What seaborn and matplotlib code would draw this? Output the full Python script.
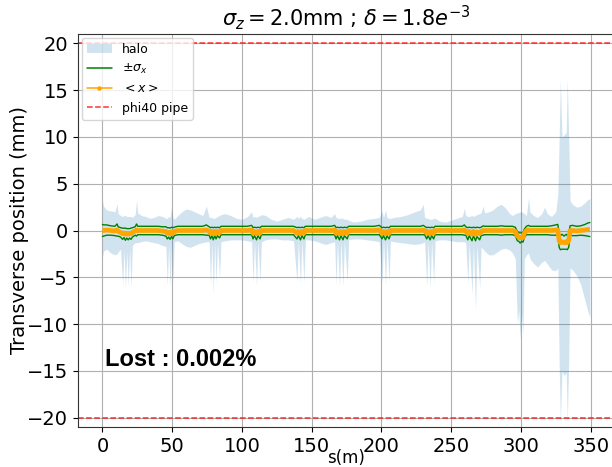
import matplotlib
matplotlib.use("Agg")
import matplotlib.pyplot as plt
from matplotlib.lines import Line2D
import numpy as np
import pandas as pd
import seaborn as sns

# Longitudinal positions along the lattice (m)
s_pos = [
    0, 0.8, 3, 6, 9, 10.5, 11.3, 13, 14.5, 15.5, 16.5, 17.5, 18.5, 19.5, 20.5, 21.5, 23.5, 24.5, 25.3,
    28, 31, 34, 37, 40, 43, 45.5, 46.5, 47.5, 48.5, 49.5, 50.5, 51.5, 54,
    57, 60, 63, 66, 69, 72, 74.5, 76.5, 77.5, 78.5, 79.5, 80.5, 81.5, 82.5, 84, 85, 88,
    92, 96, 100, 104, 107, 108, 109, 110.5, 111.5, 113, 114, 117,
    121, 125, 129, 133, 137, 139.5, 140.5, 142, 143, 144.5, 145.5, 148,
    152, 156, 160, 164, 166.5, 167.5, 168.5, 170, 171, 172.5, 173.5, 175.5, 176.5,
    180, 185, 190, 195, 198.5, 200.5, 201.5, 203, 204, 205.5, 206.5, 209,
    214, 219, 224, 228, 230, 231, 232.5, 233.5, 235, 236, 237.5, 238.5,
    242, 246, 250, 254, 258, 259.5, 260.5, 262, 263, 265, 266, 267.5, 268.5, 270.5, 271.5, 273, 274,
    277, 280, 283, 286, 289, 292, 294, 296,
    297.5, 298.5, 299.5, 300.5, 301.5, 302.5, 304, 305.5, 306.5,
    309, 312, 315, 317, 319, 322, 325, 326.5,
    327.5, 328.3, 329.5, 331, 332.5, 333.3, 334.3,
    335.3, 337, 340, 343, 346, 348, 349.5,
]

# Upper edge of the particle halo (mm)
halo_hi = [
    3.3, 2.6, 2.2, 2.1, 2.0, 2.9, 1.8, 1.6, 1.5, 1.6, 1.6, 1.5, 1.5, 1.5, 1.5, 1.4, 1.7, 3.3, 1.9,
    1.6, 1.5, 1.3, 1.4, 1.6, 1.5, 1.3, 1.3, 1.5, 1.4, 2.5, 1.4, 1.2, 1.6,
    2.0, 2.3, 2.2, 2.0, 1.8, 1.6, 2.6, 1.4, 1.4, 1.4, 1.3, 1.3, 1.4, 1.5, 1.6, 1.7, 1.8,
    1.6, 1.3, 1.2, 1.5, 2.0, 1.4, 1.5, 1.4, 1.5, 1.6, 1.7, 1.6,
    1.2, 1.0, 1.2, 1.4, 1.2, 1.5, 1.3, 1.5, 1.3, 1.2, 1.3, 1.5,
    1.2, 1.4, 1.6, 1.4, 1.8, 1.4, 1.3, 1.3, 1.3, 1.3, 1.2, 1.2, 1.1,
    0.9, 1.0, 1.2, 1.3, 1.4, 2.1, 1.4, 2.2, 1.4, 1.3, 1.3, 1.4,
    1.5, 1.7, 2.0, 2.2, 2.8, 1.4, 1.3, 1.3, 1.2, 1.2, 1.3, 1.3,
    1.0, 0.9, 1.1, 1.3, 1.5, 2.4, 1.6, 1.5, 1.5, 1.6, 1.5, 1.6, 1.7, 1.8, 1.9, 2.6, 1.9,
    2.0, 2.2, 2.6, 2.8, 2.4, 1.8, 1.6, 1.8,
    1.9, 1.9, 2.0, 2.0, 1.9, 1.8, 1.6, 3.5, 2.0,
    1.6, 1.4, 1.8, 2.5, 1.8, 1.5, 2.0, 3.8,
    10.0, 16.2, 10.0, 10.2, 10.5, 16.2, 10.0,
    3.2, 2.8, 2.5, 2.6, 3.0, 3.3, 3.4,
]

# Lower edge of the particle halo (mm)
halo_lo = [
    -2.9, -2.2, -2.0, -2.4, -2.6, -2.5, -2.3, -2.0, -5.8, -2.0, -6.2, -2.2, -5.9, -2.0, -6.1, -1.6, -1.3, -1.3, -1.3,
    -1.2, -1.1, -1.2, -1.3, -1.4, -1.6, -1.7, -5.9, -1.5, -6.1, -1.4, -5.6, -1.2, -1.1,
    -1.4, -1.7, -1.8, -1.6, -1.4, -1.3, -1.2, -1.2, -5.8, -1.3, -6.8, -1.3, -5.6, -1.3, -5.0, -1.2, -1.1,
    -1.0, -1.0, -1.0, -1.1, -1.2, -5.6, -1.2, -5.9, -1.2, -5.4, -1.2, -1.0,
    -0.9, -0.9, -1.0, -1.0, -1.1, -5.5, -1.1, -5.7, -1.1, -5.5, -1.0, -1.0,
    -1.1, -1.3, -1.5, -1.3, -1.2, -5.8, -1.2, -6.0, -1.2, -5.9, -1.1, -5.4, -1.0,
    -0.9, -0.9, -1.0, -1.1, -1.2, -5.6, -1.1, -5.9, -1.1, -5.5, -1.1, -1.2,
    -1.3, -1.4, -1.5, -1.4, -1.3, -1.2, -5.9, -1.2, -6.1, -1.2, -5.6, -1.1,
    -1.0, -1.0, -1.1, -1.2, -1.2, -1.2, -1.3, -5.6, -1.4, -6.8, -1.5, -8.5, -1.6, -6.2, -1.8, -2.0, -2.2,
    -2.6, -2.6, -2.3, -2.0, -1.9, -2.1, -2.4, -3.0,
    -10.0, -8.5, -11.5, -9.0, -11.0, -3.0, -2.6, -2.4, -3.0,
    -3.5, -3.9, -3.4, -3.2, -3.6, -4.2, -4.3, -4.0,
    -14.5, -20.5, -15.0, -15.5, -15.2, -20.5, -14.0,
    -4.0, -4.2, -4.8, -5.8, -7.5, -8.6, -9.3,
]

# Beam centroid <x> (mm)
x_mean = [
    0.0, 0.0, 0.05, 0.0, -0.05, 0.05, -0.1, -0.2, -0.35, -0.25, -0.4, -0.3, -0.4, -0.3, -0.35, -0.2, -0.05, 0.05, 0.0,
    0.0, 0.0, 0.0, 0.0, 0.0, -0.05, -0.1, -0.3, -0.2, -0.35, -0.15, -0.3, -0.1, 0.0,
    0.0, 0.0, 0.0, 0.0, 0.0, 0.0, 0.05, -0.05, -0.3, -0.1, -0.35, -0.1, -0.3, -0.1, -0.25, 0.0, 0.0,
    0.0, 0.0, 0.0, 0.0, 0.05, -0.3, -0.1, -0.35, -0.1, -0.3, 0.0, 0.0,
    0.0, 0.0, 0.0, 0.0, 0.0, -0.3, -0.1, -0.35, -0.1, -0.3, 0.0, 0.0,
    0.0, 0.0, 0.0, 0.0, 0.05, -0.3, -0.1, -0.35, -0.1, -0.35, -0.1, -0.3, 0.0,
    0.0, 0.0, 0.0, 0.0, 0.05, -0.3, -0.1, -0.35, -0.1, -0.3, 0.0, 0.0,
    0.0, 0.0, 0.0, 0.0, 0.05, 0.0, -0.3, -0.1, -0.35, -0.1, -0.3, 0.0,
    0.0, 0.0, 0.0, 0.0, 0.0, 0.05, -0.05, -0.35, -0.1, -0.4, -0.1, -0.4, -0.15, -0.35, -0.1, 0.0, 0.0,
    0.0, 0.0, 0.0, 0.0, 0.0, 0.0, 0.0, -0.1,
    -0.6, -0.7, -0.8, -0.7, -0.75, -0.3, 0.0, 0.05, 0.0,
    0.0, 0.0, 0.0, 0.0, 0.0, 0.0, 0.05, 0.05,
    -1.1, -1.3, -1.2, -1.3, -1.2, -1.3, -1.1,
    0.0, 0.0, -0.05, 0.0, 0.05, 0.1, 0.1,
]

# RMS beam size sigma_x (mm)
sigma_x = [
    0.65, 0.6, 0.55, 0.5, 0.5, 0.65, 0.5, 0.5, 0.6, 0.5, 0.65, 0.5, 0.6, 0.5, 0.6, 0.5, 0.45, 0.65, 0.45,
    0.45, 0.45, 0.45, 0.45, 0.45, 0.45, 0.5, 0.6, 0.5, 0.6, 0.5, 0.6, 0.45, 0.45,
    0.45, 0.45, 0.45, 0.45, 0.45, 0.45, 0.55, 0.45, 0.6, 0.45, 0.65, 0.45, 0.6, 0.45, 0.55, 0.45, 0.45,
    0.45, 0.45, 0.45, 0.45, 0.5, 0.6, 0.45, 0.65, 0.45, 0.6, 0.45, 0.45,
    0.45, 0.45, 0.45, 0.45, 0.45, 0.6, 0.45, 0.65, 0.45, 0.6, 0.45, 0.45,
    0.45, 0.45, 0.45, 0.45, 0.5, 0.6, 0.45, 0.65, 0.45, 0.65, 0.45, 0.6, 0.45,
    0.45, 0.45, 0.45, 0.45, 0.5, 0.6, 0.45, 0.65, 0.45, 0.6, 0.45, 0.45,
    0.45, 0.45, 0.45, 0.45, 0.5, 0.45, 0.6, 0.45, 0.65, 0.45, 0.6, 0.45,
    0.45, 0.45, 0.45, 0.45, 0.45, 0.55, 0.45, 0.65, 0.45, 0.7, 0.45, 0.7, 0.5, 0.65, 0.45, 0.5, 0.45,
    0.45, 0.45, 0.45, 0.5, 0.45, 0.45, 0.45, 0.45,
    0.5, 0.45, 0.55, 0.45, 0.5, 0.45, 0.45, 0.5, 0.45,
    0.45, 0.45, 0.45, 0.45, 0.45, 0.5, 0.55, 0.6,
    0.7, 0.75, 0.8, 0.7, 0.8, 0.75, 0.7,
    0.5, 0.55, 0.5, 0.5, 0.6, 0.7, 0.75,
]

pipe_radius = 20.0
lost_fraction = "0.002%"
xticks = [0, 50, 100, 150, 200, 250, 300, 350]
yticks = [-20, -15, -10, -5, 0, 5, 10, 15, 20]

df = pd.DataFrame({
    "s": s_pos,
    "hi": halo_hi,
    "lo": halo_lo,
    "mean": x_mean,
    "sigma": sigma_x,
})
df["up"] = df["mean"] + df["sigma"]
df["down"] = df["mean"] - df["sigma"]

sns.set_theme(style="ticks", rc={
    "axes.edgecolor": "0.2",
    "axes.linewidth": 0.8,
    "xtick.major.size": 3.5,
    "ytick.major.size": 3.5,
    "xtick.major.width": 0.8,
    "ytick.major.width": 0.8,
    "xtick.color": "black",
    "ytick.color": "black",
    "text.color": "black",
    "axes.labelcolor": "black",
})
plt.rcParams["font.family"] = ["DejaVu Sans"]

DPI = 100
W, H = 612, 467
fig = plt.figure(figsize=(W / DPI, H / DPI), dpi=DPI)
ax = fig.add_axes([78 / W, 40 / H, 537 / W, 393 / H])

halo = ax.fill_between(df["s"], df["lo"], df["hi"], color="#1f77b4", alpha=0.2,
                       linewidth=0, label="halo")

sns.lineplot(data=df, x="s", y="up", color="green", lw=1.0, estimator=None,
             sort=False, ax=ax, label=r"$\pm\sigma_x$", legend=False)
sns.lineplot(data=df, x="s", y="down", color="green", lw=1.0, estimator=None,
             sort=False, ax=ax, legend=False)
sns.lineplot(data=df, x="s", y="mean", color="orange", lw=3.4, estimator=None,
             sort=False, ax=ax, legend=False, solid_capstyle="butt")

for y0 in (pipe_radius, -pipe_radius):
    ax.axhline(y0, color="red", ls="--", lw=1.1, alpha=0.8)

ax.set_xlim(-17.5, 367.5)
ax.set_ylim(-21, 21)
ax.set_xticks(xticks)
ax.set_yticks(yticks)
ax.tick_params(labelsize=14)
ax.grid(True, color="#b0b0b0", lw=0.8)
ax.set_axisbelow(True)

ax.set_title(r"$\sigma_z = 2.0$mm ; $\delta = 1.8e^{-3}$", fontsize=15)
ax.set_xlabel("s(m)", fontsize=12)
ax.xaxis.set_label_coords(0.5, -0.056)
ax.set_ylabel("Transverse position (mm)", fontsize=14)
ax.yaxis.set_label_coords((29 - 78) / 537, 0.5)

ax.text(1.5, -14.5, f"Lost : {lost_fraction}", fontsize=17, fontweight="bold",
        family=["Liberation Sans", "DejaVu Sans"], va="baseline", color="black")

handles = [
    halo,
    Line2D([], [], color="green", lw=1.1),
    Line2D([], [], color="orange", lw=1.1, marker=".", markersize=4.5),
    Line2D([], [], color="red", ls="--", lw=1.1, alpha=0.8),
]
labels = ["halo", r"$\pm\sigma_x$", r"$<x>$", "phi40 pipe"]
ax.legend(handles, labels, loc="upper left", fontsize=9, framealpha=0.8,
          edgecolor="0.8", fancybox=True, borderaxespad=0.3)

fig.savefig("out.png", dpi=DPI)
